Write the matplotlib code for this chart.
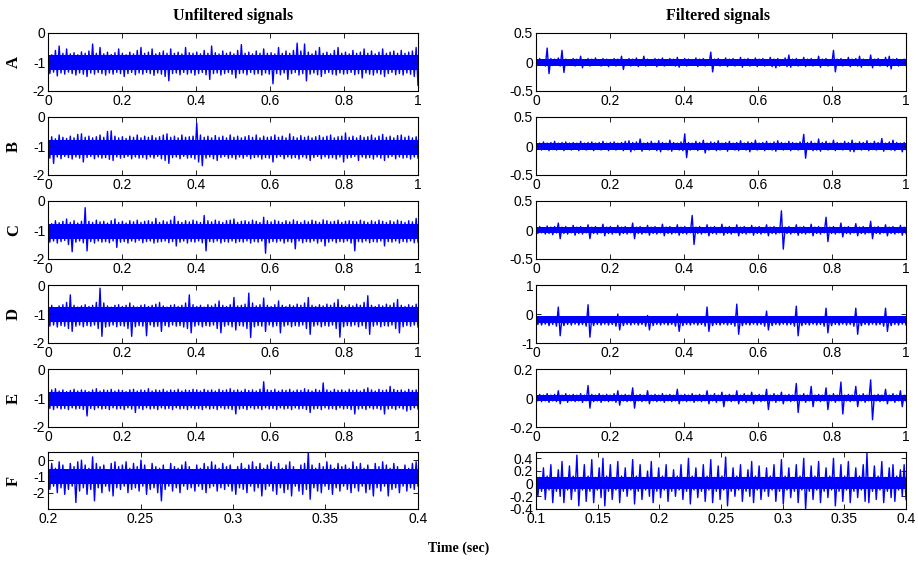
import numpy as np
import matplotlib.pyplot as plt

plt.rcParams['axes.unicode_minus'] = False
plt.rcParams['font.family'] = 'Liberation Sans'

# peak (hi) and trough (lo) values, 100 samples per trace
# ---- unfiltered (left column) ----
A_raw_hi = [-0.7, -0.75, -0.6, -0.45, -0.7, -0.55, -0.72, -0.68, -0.75, -0.65,
            -0.7, -0.62, -0.38, -0.7, -0.5, -0.72, -0.66, -0.74, -0.68, -0.55,
            -0.7, -0.75, -0.66, -0.72, -0.6, -0.5, -0.7, -0.66, -0.55, -0.72,
            -0.68, -0.62, -0.7, -0.55, -0.7, -0.66, -0.72, -0.5, -0.68, -0.7,
            -0.66, -0.72, -0.6, -0.7, -0.45, -0.68, -0.72, -0.62, -0.7, -0.66,
            -0.72, -0.6, -0.4, -0.7, -0.66, -0.72, -0.62, -0.7, -0.55, -0.7,
            -0.68, -0.72, -0.5, -0.7, -0.62, -0.7, -0.6, -0.35, -0.62, -0.38,
            -0.66, -0.72, -0.62, -0.5, -0.7, -0.66, -0.72, -0.6, -0.5, -0.7,
            -0.66, -0.72, -0.6, -0.7, -0.66, -0.55, -0.7, -0.62, -0.72, -0.66,
            -0.55, -0.7, -0.66, -0.62, -0.7, -0.6, -0.7, -0.66, -0.62, -0.5]
A_raw_lo = [-1.4, -1.35, -1.48, -1.38, -1.42, -1.35, -1.4, -1.45, -1.38, -1.42,
            -1.5, -1.38, -1.42, -1.36, -1.4, -1.45, -1.38, -1.42, -1.36, -1.4,
            -1.5, -1.4, -1.36, -1.44, -1.38, -1.42, -1.36, -1.4, -1.46, -1.38,
            -1.42, -1.5, -1.65, -1.4, -1.38, -1.44, -1.36, -1.42, -1.38, -1.45,
            -1.4, -1.36, -1.44, -1.6, -1.4, -1.38, -1.45, -1.4, -1.36, -1.42,
            -1.55, -1.4, -1.38, -1.44, -1.36, -1.42, -1.4, -1.45, -1.38, -1.42,
            -1.75, -1.4, -1.44, -1.38, -1.6, -1.4, -1.36, -1.45, -1.4, -1.65,
            -1.42, -1.38, -1.44, -1.5, -1.4, -1.36, -1.42, -1.45, -1.38, -1.42,
            -1.4, -1.36, -1.44, -1.4, -1.55, -1.38, -1.42, -1.45, -1.38, -1.42,
            -1.5, -1.4, -1.36, -1.44, -1.4, -1.45, -1.38, -1.42, -1.5, -1.8]

B_raw_hi = [-0.72, -0.68, -0.75, -0.62, -0.7, -0.74, -0.66, -0.72, -0.6, -0.58,
            -0.7, -0.66, -0.72, -0.68, -0.62, -0.7, -0.5, -0.48, -0.66, -0.72,
            -0.68, -0.74, -0.66, -0.7, -0.62, -0.72, -0.66, -0.7, -0.64, -0.72,
            -0.68, -0.62, -0.58, -0.7, -0.66, -0.72, -0.62, -0.7, -0.68, -0.66,
            -0.2, -0.62, -0.7, -0.66, -0.72, -0.64, -0.7, -0.66, -0.72, -0.62,
            -0.7, -0.66, -0.72, -0.68, -0.64, -0.7, -0.62, -0.72, -0.66, -0.7,
            -0.68, -0.62, -0.7, -0.66, -0.72, -0.58, -0.68, -0.72, -0.64, -0.7,
            -0.66, -0.72, -0.68, -0.64, -0.7, -0.66, -0.62, -0.72, -0.68, -0.66,
            -0.55, -0.7, -0.66, -0.72, -0.64, -0.7, -0.68, -0.62, -0.72, -0.66,
            -0.6, -0.7, -0.66, -0.72, -0.64, -0.62, -0.7, -0.66, -0.72, -0.68]
B_raw_lo = [-1.42, -1.6, -1.38, -1.44, -1.36, -1.4, -1.45, -1.38, -1.42, -1.55,
            -1.4, -1.36, -1.44, -1.38, -1.42, -1.4, -1.46, -1.5, -1.38, -1.42,
            -1.4, -1.36, -1.44, -1.38, -1.42, -1.4, -1.45, -1.38, -1.42, -1.36,
            -1.44, -1.5, -1.6, -1.4, -1.38, -1.44, -1.36, -1.42, -1.4, -1.45,
            -1.55, -1.68, -1.42, -1.38, -1.44, -1.5, -1.4, -1.36, -1.42, -1.4,
            -1.45, -1.38, -1.42, -1.36, -1.44, -1.4, -1.38, -1.45, -1.4, -1.42,
            -1.55, -1.4, -1.36, -1.44, -1.38, -1.42, -1.4, -1.45, -1.38, -1.42,
            -1.5, -1.4, -1.36, -1.44, -1.38, -1.42, -1.4, -1.45, -1.38, -1.55,
            -1.42, -1.4, -1.36, -1.5, -1.38, -1.42, -1.4, -1.45, -1.38, -1.42,
            -1.5, -1.4, -1.36, -1.44, -1.38, -1.42, -1.4, -1.45, -1.38, -1.42]

C_raw_hi = [-0.72, -0.78, -0.68, -0.75, -0.7, -0.62, -0.74, -0.68, -0.76, -0.7,
            -0.23, -0.7, -0.74, -0.66, -0.72, -0.7, -0.76, -0.68, -0.62, -0.74,
            -0.7, -0.76, -0.68, -0.72, -0.66, -0.74, -0.7, -0.68, -0.72, -0.6,
            -0.74, -0.68, -0.72, -0.66, -0.53, -0.7, -0.74, -0.68, -0.72, -0.66,
            -0.7, -0.74, -0.5, -0.68, -0.72, -0.66, -0.7, -0.74, -0.68, -0.66,
            -0.62, -0.74, -0.7, -0.68, -0.72, -0.66, -0.7, -0.74, -0.56, -0.68,
            -0.72, -0.66, -0.7, -0.74, -0.68, -0.72, -0.65, -0.7, -0.74, -0.68,
            -0.72, -0.66, -0.7, -0.74, -0.65, -0.68, -0.72, -0.7, -0.66, -0.74,
            -0.7, -0.68, -0.7, -0.72, -0.66, -0.7, -0.74, -0.68, -0.72, -0.66,
            -0.7, -0.74, -0.68, -0.72, -0.66, -0.7, -0.74, -0.68, -0.72, -0.6]
C_raw_lo = [-1.42, -1.38, -1.45, -1.4, -1.36, -1.5, -1.75, -1.42, -1.38, -1.44,
            -1.72, -1.4, -1.45, -1.38, -1.42, -1.4, -1.44, -1.38, -1.6, -1.42,
            -1.4, -1.45, -1.38, -1.42, -1.36, -1.44, -1.4, -1.38, -1.45, -1.42,
            -1.4, -1.38, -1.44, -1.4, -1.55, -1.42, -1.38, -1.45, -1.4, -1.42,
            -1.38, -1.44, -1.72, -1.4, -1.42, -1.38, -1.45, -1.4, -1.42, -1.38,
            -1.44, -1.4, -1.42, -1.38, -1.45, -1.4, -1.42, -1.38, -1.8, -1.44,
            -1.4, -1.42, -1.38, -1.45, -1.4, -1.42, -1.65, -1.38, -1.44, -1.4,
            -1.42, -1.38, -1.45, -1.4, -1.55, -1.42, -1.38, -1.44, -1.4, -1.42,
            -1.38, -1.45, -1.72, -1.4, -1.42, -1.38, -1.44, -1.4, -1.42, -1.38,
            -1.55, -1.4, -1.42, -1.38, -1.45, -1.4, -1.42, -1.38, -1.44, -1.42]

D_raw_hi = [-0.75, -0.7, -0.78, -0.72, -0.68, -0.6, -0.34, -0.7, -0.76, -0.72,
            -0.68, -0.74, -0.7, -0.6, -0.11, -0.62, -0.72, -0.76, -0.7, -0.68,
            -0.74, -0.7, -0.62, -0.72, -0.76, -0.7, -0.68, -0.74, -0.7, -0.66,
            -0.6, -0.72, -0.76, -0.7, -0.68, -0.74, -0.7, -0.62, -0.34, -0.68,
            -0.74, -0.7, -0.76, -0.68, -0.72, -0.66, -0.55, -0.7, -0.74, -0.68,
            -0.43, -0.72, -0.7, -0.66, -0.28, -0.62, -0.72, -0.68, -0.45, -0.7,
            -0.74, -0.68, -0.55, -0.7, -0.74, -0.68, -0.72, -0.66, -0.7, -0.62,
            -0.43, -0.7, -0.74, -0.68, -0.72, -0.66, -0.7, -0.62, -0.5, -0.7,
            -0.74, -0.68, -0.72, -0.66, -0.7, -0.6, -0.37, -0.7, -0.74, -0.68,
            -0.72, -0.66, -0.7, -0.62, -0.5, -0.7, -0.74, -0.68, -0.72, -0.66]
D_raw_lo = [-1.42, -1.38, -1.45, -1.4, -1.42, -1.5, -1.6, -1.42, -1.38, -1.44,
            -1.4, -1.42, -1.38, -1.5, -1.77, -1.45, -1.42, -1.38, -1.44, -1.4,
            -1.42, -1.5, -1.77, -1.44, -1.4, -1.42, -1.75, -1.38, -1.44, -1.42,
            -1.6, -1.4, -1.44, -1.38, -1.42, -1.4, -1.45, -1.5, -1.65, -1.42,
            -1.38, -1.44, -1.4, -1.42, -1.38, -1.5, -1.65, -1.42, -1.38, -1.44,
            -1.55, -1.4, -1.42, -1.5, -1.81, -1.44, -1.4, -1.42, -1.6, -1.38,
            -1.44, -1.4, -1.65, -1.42, -1.38, -1.44, -1.4, -1.42, -1.38, -1.5,
            -1.7, -1.42, -1.38, -1.44, -1.4, -1.42, -1.38, -1.5, -1.8, -1.44,
            -1.4, -1.42, -1.38, -1.44, -1.4, -1.5, -1.7, -1.42, -1.38, -1.44,
            -1.4, -1.42, -1.38, -1.5, -1.65, -1.44, -1.4, -1.42, -1.38, -1.45]

E_raw_hi = [-0.76, -0.72, -0.68, -0.76, -0.72, -0.78, -0.74, -0.7, -0.76, -0.72,
            -0.74, -0.78, -0.72, -0.68, -0.76, -0.72, -0.74, -0.7, -0.76, -0.72,
            -0.74, -0.78, -0.72, -0.7, -0.76, -0.72, -0.74, -0.68, -0.76, -0.72,
            -0.74, -0.7, -0.76, -0.72, -0.74, -0.7, -0.76, -0.72, -0.74, -0.7,
            -0.72, -0.76, -0.7, -0.74, -0.72, -0.76, -0.7, -0.74, -0.72, -0.68,
            -0.74, -0.72, -0.76, -0.7, -0.74, -0.72, -0.76, -0.7, -0.44, -0.72,
            -0.74, -0.7, -0.76, -0.72, -0.74, -0.7, -0.76, -0.72, -0.74, -0.68,
            -0.72, -0.76, -0.7, -0.74, -0.48, -0.72, -0.76, -0.7, -0.74, -0.72,
            -0.76, -0.7, -0.74, -0.72, -0.76, -0.7, -0.65, -0.72, -0.76, -0.7,
            -0.74, -0.72, -0.6, -0.7, -0.74, -0.72, -0.76, -0.7, -0.74, -0.72]
E_raw_lo = [-1.36, -1.4, -1.34, -1.38, -1.36, -1.4, -1.34, -1.38, -1.36, -1.4,
            -1.62, -1.36, -1.4, -1.34, -1.38, -1.36, -1.4, -1.34, -1.38, -1.36,
            -1.4, -1.34, -1.38, -1.5, -1.36, -1.4, -1.34, -1.38, -1.36, -1.4,
            -1.34, -1.38, -1.36, -1.4, -1.34, -1.38, -1.36, -1.4, -1.34, -1.38,
            -1.36, -1.4, -1.34, -1.38, -1.36, -1.4, -1.34, -1.38, -1.36, -1.4,
            -1.55, -1.38, -1.36, -1.4, -1.34, -1.38, -1.36, -1.4, -1.34, -1.38,
            -1.36, -1.4, -1.34, -1.38, -1.36, -1.4, -1.34, -1.38, -1.36, -1.4,
            -1.5, -1.38, -1.36, -1.4, -1.34, -1.38, -1.36, -1.4, -1.34, -1.38,
            -1.36, -1.4, -1.55, -1.38, -1.36, -1.4, -1.34, -1.38, -1.36, -1.4,
            -1.55, -1.38, -1.36, -1.4, -1.34, -1.38, -1.45, -1.4, -1.34, -1.38]

F_raw_hi = [-0.4, -0.2, -0.5, -0.1, -0.3, -0.6, -0.2, -0.4, -0.1, 0.0,
            -0.3, -0.5, 0.2, -0.2, -0.4, -0.3, -0.6, -0.2, -0.1, -0.4,
            -0.3, -0.1, -0.5, -0.2, -0.4, 0.0, -0.3, -0.6, -0.2, -0.4,
            -0.5, -0.3, -0.6, -0.2, -0.4, -0.5, -0.3, -0.1, -0.4, -0.6,
            -0.3, -0.5, -0.2, -0.4, -0.1, -0.3, -0.5, -0.2, -0.4, -0.3,
            -0.6, -0.4, -0.2, -0.5, -0.3, -0.1, -0.4, -0.2, -0.5, -0.3,
            -0.1, -0.4, -0.2, -0.5, -0.3, -0.1, -0.4, -0.6, -0.3, -0.2,
            0.5, -0.3, -0.5, -0.2, -0.4, -0.1, -0.3, -0.5, -0.2, -0.4,
            -0.3, -0.5, -0.1, -0.4, -0.2, -0.5, -0.3, -0.6, -0.2, -0.4,
            -0.1, -0.3, -0.5, -0.2, -0.4, -0.6, -0.3, -0.5, -0.2, -0.1]
F_raw_lo = [-1.8, -1.6, -2.0, -1.7, -2.1, -1.8, -1.6, -2.6, -1.9, -1.7,
            -2.1, -1.8, -2.5, -1.7, -2.0, -1.6, -1.9, -2.2, -1.7, -1.8,
            -1.6, -2.0, -1.8, -1.7, -1.9, -1.6, -2.1, -1.8, -1.7, -2.0,
            -2.5, -1.8, -1.6, -1.9, -1.7, -2.0, -1.6, -1.8, -1.7, -1.9,
            -1.6, -1.8, -2.0, -1.7, -1.6, -1.9, -1.7, -1.8, -1.6, -1.9,
            -2.1, -1.7, -1.8, -2.0, -1.6, -1.9, -1.7, -2.2, -1.8, -1.6,
            -1.9, -2.1, -1.7, -2.0, -1.8, -2.2, -1.6, -1.9, -2.1, -1.8,
            -2.4, -1.7, -1.9, -2.0, -1.6, -1.8, -2.1, -1.7, -1.9, -1.6,
            -1.8, -2.0, -1.7, -1.9, -1.6, -2.0, -1.8, -2.2, -1.7, -1.9,
            -1.6, -2.2, -1.8, -1.7, -2.0, -1.6, -1.9, -1.7, -1.8, -1.6]

# ---- filtered (right column) ----
A_flt_hi = [0.05, 0.06, 0.04, 0.24, 0.06, 0.05, 0.07, 0.2, 0.05, 0.04,
            0.06, 0.05, 0.1, 0.04, 0.06, 0.05, 0.07, 0.04, 0.06, 0.05,
            0.04, 0.06, 0.05, 0.1, 0.04, 0.06, 0.05, 0.07, 0.04, 0.1,
            0.05, 0.04, 0.06, 0.05, 0.07, 0.04, 0.06, 0.05, 0.08, 0.04,
            0.06, 0.05, 0.04, 0.07, 0.05, 0.06, 0.04, 0.17, 0.05, 0.06,
            0.04, 0.07, 0.05, 0.06, 0.04, 0.08, 0.05, 0.06, 0.04, 0.07,
            0.05, 0.06, 0.04, 0.08, 0.05, 0.06, 0.04, 0.07, 0.12, 0.05,
            0.06, 0.04, 0.08, 0.05, 0.06, 0.04, 0.1, 0.05, 0.06, 0.04,
            0.2, 0.05, 0.06, 0.04, 0.08, 0.05, 0.06, 0.1, 0.05, 0.04,
            0.12, 0.05, 0.06, 0.04, 0.08, 0.1, 0.05, 0.06, 0.04, 0.05]
A_flt_lo = [-0.06, -0.05, -0.07, -0.2, -0.06, -0.05, -0.07, -0.18, -0.06, -0.05,
            -0.07, -0.06, -0.1, -0.05, -0.07, -0.06, -0.05, -0.07, -0.06, -0.08,
            -0.05, -0.07, -0.06, -0.13, -0.05, -0.07, -0.06, -0.08, -0.05, -0.07,
            -0.06, -0.05, -0.08, -0.06, -0.07, -0.05, -0.06, -0.07, -0.09, -0.05,
            -0.07, -0.06, -0.05, -0.08, -0.06, -0.07, -0.05, -0.17, -0.06, -0.07,
            -0.05, -0.08, -0.06, -0.07, -0.05, -0.09, -0.06, -0.07, -0.05, -0.08,
            -0.06, -0.07, -0.05, -0.08, -0.1, -0.07, -0.05, -0.08, -0.09, -0.06,
            -0.07, -0.05, -0.08, -0.06, -0.07, -0.05, -0.09, -0.06, -0.07, -0.05,
            -0.17, -0.06, -0.07, -0.05, -0.08, -0.06, -0.07, -0.09, -0.05, -0.06,
            -0.1, -0.06, -0.07, -0.05, -0.08, -0.12, -0.06, -0.07, -0.05, -0.06]

B_flt_hi = [0.06, 0.05, 0.07, 0.05, 0.06, 0.08, 0.05, 0.06, 0.07, 0.05,
            0.06, 0.05, 0.08, 0.05, 0.06, 0.07, 0.05, 0.06, 0.08, 0.05,
            0.06, 0.07, 0.05, 0.06, 0.08, 0.09, 0.06, 0.07, 0.12, 0.05,
            0.06, 0.08, 0.05, 0.09, 0.06, 0.05, 0.1, 0.06, 0.05, 0.07,
            0.21, 0.06, 0.05, 0.08, 0.06, 0.1, 0.05, 0.07, 0.06, 0.09,
            0.05, 0.06, 0.08, 0.05, 0.06, 0.09, 0.05, 0.07, 0.06, 0.1,
            0.05, 0.06, 0.08, 0.05, 0.07, 0.09, 0.06, 0.05, 0.08, 0.06,
            0.05, 0.07, 0.2, 0.06, 0.08, 0.05, 0.12, 0.06, 0.08, 0.05,
            0.1, 0.06, 0.05, 0.08, 0.06, 0.1, 0.05, 0.07, 0.06, 0.09,
            0.05, 0.08, 0.06, 0.13, 0.05, 0.07, 0.1, 0.06, 0.05, 0.06]
B_flt_lo = [-0.06, -0.07, -0.05, -0.08, -0.06, -0.07, -0.05, -0.08, -0.06, -0.07,
            -0.05, -0.08, -0.06, -0.07, -0.05, -0.08, -0.06, -0.07, -0.05, -0.08,
            -0.06, -0.07, -0.05, -0.08, -0.06, -0.1, -0.07, -0.05, -0.09, -0.06,
            -0.07, -0.05, -0.08, -0.1, -0.06, -0.07, -0.09, -0.05, -0.07, -0.08,
            -0.2, -0.07, -0.06, -0.08, -0.05, -0.12, -0.07, -0.06, -0.08, -0.07,
            -0.05, -0.09, -0.06, -0.07, -0.08, -0.05, -0.07, -0.1, -0.06, -0.07,
            -0.05, -0.08, -0.06, -0.07, -0.09, -0.05, -0.07, -0.06, -0.08, -0.06,
            -0.07, -0.05, -0.21, -0.06, -0.08, -0.07, -0.09, -0.06, -0.07, -0.05,
            -0.08, -0.06, -0.07, -0.05, -0.09, -0.1, -0.06, -0.07, -0.05, -0.08,
            -0.06, -0.07, -0.05, -0.09, -0.06, -0.07, -0.08, -0.05, -0.1, -0.06]

C_flt_hi = [0.05, 0.06, 0.04, 0.07, 0.05, 0.06, 0.12, 0.05, 0.06, 0.04,
            0.08, 0.05, 0.06, 0.04, 0.09, 0.05, 0.06, 0.04, 0.1, 0.05,
            0.06, 0.04, 0.08, 0.05, 0.06, 0.04, 0.12, 0.05, 0.06, 0.04,
            0.08, 0.05, 0.06, 0.04, 0.1, 0.05, 0.06, 0.04, 0.09, 0.05,
            0.06, 0.04, 0.25, 0.05, 0.06, 0.04, 0.09, 0.05, 0.06, 0.04,
            0.1, 0.05, 0.06, 0.04, 0.09, 0.05, 0.06, 0.04, 0.08, 0.05,
            0.06, 0.04, 0.09, 0.05, 0.06, 0.04, 0.33, 0.05, 0.06, 0.04,
            0.09, 0.05, 0.06, 0.04, 0.1, 0.05, 0.06, 0.04, 0.22, 0.05,
            0.06, 0.04, 0.12, 0.05, 0.06, 0.04, 0.11, 0.05, 0.06, 0.04,
            0.15, 0.05, 0.06, 0.04, 0.09, 0.05, 0.06, 0.04, 0.08, 0.05]
C_flt_lo = [-0.06, -0.05, -0.07, -0.06, -0.08, -0.05, -0.15, -0.06, -0.07, -0.05,
            -0.09, -0.06, -0.07, -0.05, -0.15, -0.06, -0.07, -0.05, -0.1, -0.06,
            -0.07, -0.05, -0.09, -0.06, -0.07, -0.05, -0.15, -0.06, -0.07, -0.05,
            -0.09, -0.06, -0.07, -0.05, -0.1, -0.06, -0.07, -0.05, -0.09, -0.06,
            -0.07, -0.05, -0.25, -0.06, -0.07, -0.05, -0.1, -0.06, -0.07, -0.05,
            -0.09, -0.06, -0.07, -0.05, -0.1, -0.06, -0.07, -0.05, -0.09, -0.06,
            -0.07, -0.05, -0.1, -0.06, -0.07, -0.05, -0.33, -0.06, -0.07, -0.05,
            -0.09, -0.06, -0.07, -0.05, -0.1, -0.06, -0.07, -0.05, -0.2, -0.06,
            -0.07, -0.05, -0.12, -0.06, -0.07, -0.05, -0.1, -0.06, -0.07, -0.05,
            -0.15, -0.06, -0.07, -0.05, -0.1, -0.06, -0.07, -0.05, -0.09, -0.06]

D_flt_hi = [-0.15, -0.13, -0.16, -0.12, -0.15, -0.1, 0.24, -0.12, -0.16, -0.13,
            -0.15, -0.12, -0.16, -0.1, 0.32, -0.12, -0.15, -0.13, -0.16, -0.12,
            -0.15, -0.1, 0.0, -0.12, -0.16, -0.13, -0.15, -0.12, -0.16, -0.1,
            -0.05, -0.12, -0.15, -0.13, -0.16, -0.12, -0.15, -0.1, 0.0, -0.12,
            -0.16, -0.13, -0.15, -0.12, -0.16, -0.1, 0.24, -0.12, -0.15, -0.13,
            -0.16, -0.12, -0.15, -0.1, 0.34, -0.12, -0.16, -0.13, -0.15, -0.12,
            -0.16, -0.1, 0.1, -0.12, -0.15, -0.13, -0.16, -0.12, -0.15, -0.1,
            0.27, -0.12, -0.16, -0.13, -0.15, -0.12, -0.16, -0.1, 0.2, -0.12,
            -0.15, -0.13, -0.16, -0.12, -0.15, -0.1, 0.2, -0.12, -0.16, -0.13,
            -0.15, -0.12, -0.16, -0.1, 0.2, -0.12, -0.15, -0.13, -0.16, -0.12]
D_flt_lo = [-0.36, -0.38, -0.35, -0.4, -0.36, -0.42, -0.75, -0.4, -0.36, -0.38,
            -0.35, -0.38, -0.36, -0.42, -0.8, -0.4, -0.36, -0.38, -0.35, -0.38,
            -0.36, -0.42, -0.55, -0.4, -0.36, -0.38, -0.35, -0.38, -0.36, -0.42,
            -0.55, -0.4, -0.36, -0.38, -0.35, -0.38, -0.36, -0.42, -0.6, -0.4,
            -0.36, -0.38, -0.35, -0.38, -0.36, -0.42, -0.6, -0.4, -0.36, -0.38,
            -0.35, -0.38, -0.36, -0.42, -0.7, -0.4, -0.36, -0.38, -0.35, -0.38,
            -0.36, -0.42, -0.55, -0.4, -0.36, -0.38, -0.35, -0.38, -0.36, -0.42,
            -0.75, -0.4, -0.36, -0.38, -0.35, -0.38, -0.36, -0.42, -0.65, -0.4,
            -0.36, -0.38, -0.35, -0.38, -0.36, -0.42, -0.7, -0.4, -0.36, -0.38,
            -0.35, -0.38, -0.36, -0.42, -0.6, -0.4, -0.36, -0.38, -0.35, -0.38]

E_flt_hi = [0.02, 0.025, 0.02, 0.03, 0.02, 0.025, 0.05, 0.02, 0.03, 0.02,
            0.025, 0.02, 0.03, 0.02, 0.086, 0.025, 0.02, 0.03, 0.02, 0.025,
            0.02, 0.03, 0.05, 0.02, 0.025, 0.02, 0.07, 0.02, 0.025, 0.02,
            0.05, 0.02, 0.025, 0.02, 0.03, 0.02, 0.025, 0.02, 0.06, 0.02,
            0.025, 0.02, 0.03, 0.02, 0.025, 0.02, 0.05, 0.02, 0.03, 0.02,
            0.04, 0.02, 0.025, 0.02, 0.05, 0.02, 0.03, 0.02, 0.04, 0.02,
            0.025, 0.02, 0.06, 0.02, 0.03, 0.02, 0.04, 0.02, 0.025, 0.02,
            0.1, 0.02, 0.03, 0.02, 0.08, 0.02, 0.025, 0.02, 0.07, 0.02,
            0.03, 0.02, 0.11, 0.02, 0.025, 0.02, 0.08, 0.02, 0.03, 0.02,
            0.125, 0.02, 0.025, 0.02, 0.06, 0.02, 0.03, 0.02, 0.05, 0.02]
E_flt_lo = [-0.02, -0.025, -0.02, -0.03, -0.02, -0.025, -0.04, -0.02, -0.03, -0.02,
            -0.025, -0.02, -0.03, -0.02, -0.07, -0.025, -0.02, -0.03, -0.02, -0.025,
            -0.02, -0.03, -0.05, -0.02, -0.025, -0.02, -0.07, -0.02, -0.025, -0.02,
            -0.04, -0.02, -0.025, -0.02, -0.03, -0.02, -0.025, -0.02, -0.04, -0.02,
            -0.025, -0.02, -0.03, -0.02, -0.025, -0.02, -0.04, -0.02, -0.03, -0.02,
            -0.06, -0.02, -0.025, -0.02, -0.04, -0.02, -0.03, -0.02, -0.04, -0.02,
            -0.025, -0.02, -0.08, -0.02, -0.03, -0.02, -0.04, -0.02, -0.025, -0.02,
            -0.1, -0.02, -0.03, -0.02, -0.06, -0.02, -0.025, -0.02, -0.08, -0.02,
            -0.03, -0.02, -0.11, -0.02, -0.025, -0.02, -0.06, -0.02, -0.03, -0.02,
            -0.15, -0.02, -0.025, -0.02, -0.04, -0.02, -0.03, -0.02, -0.06, -0.02]

F_flt_hi = [0.2, 0.1, 0.25, 0.12, 0.3, 0.1, 0.22, 0.35, 0.1, 0.28,
            0.12, 0.45, 0.1, 0.3, 0.12, 0.38, 0.1, 0.25, 0.4, 0.12,
            0.3, 0.1, 0.35, 0.12, 0.25, 0.1, 0.38, 0.12, 0.3, 0.1,
            0.2, 0.35, 0.1, 0.25, 0.12, 0.3, 0.1, 0.22, 0.12, 0.3,
            0.1, 0.4, 0.12, 0.25, 0.1, 0.3, 0.12, 0.38, 0.1, 0.28,
            0.12, 0.42, 0.1, 0.25, 0.12, 0.3, 0.1, 0.22, 0.35, 0.12,
            0.28, 0.1, 0.25, 0.12, 0.3, 0.1, 0.38, 0.12, 0.25, 0.1,
            0.3, 0.12, 0.4, 0.1, 0.28, 0.12, 0.35, 0.1, 0.25, 0.12,
            0.4, 0.1, 0.3, 0.12, 0.35, 0.1, 0.25, 0.12, 0.3, 0.48,
            0.1, 0.28, 0.12, 0.35, 0.1, 0.25, 0.3, 0.12, 0.22, 0.3]
F_flt_lo = [-0.2, -0.12, -0.25, -0.1, -0.3, -0.12, -0.2, -0.3, -0.1, -0.25,
            -0.12, -0.35, -0.1, -0.28, -0.12, -0.3, -0.1, -0.22, -0.35, -0.12,
            -0.25, -0.1, -0.3, -0.12, -0.2, -0.1, -0.32, -0.12, -0.25, -0.1,
            -0.2, -0.3, -0.12, -0.22, -0.1, -0.28, -0.12, -0.2, -0.1, -0.25,
            -0.12, -0.32, -0.1, -0.22, -0.12, -0.28, -0.1, -0.3, -0.12, -0.25,
            -0.1, -0.35, -0.12, -0.2, -0.1, -0.28, -0.12, -0.2, -0.3, -0.1,
            -0.25, -0.12, -0.2, -0.1, -0.28, -0.12, -0.32, -0.1, -0.22, -0.12,
            -0.3, -0.1, -0.4, -0.12, -0.25, -0.1, -0.3, -0.12, -0.22, -0.1,
            -0.35, -0.12, -0.28, -0.1, -0.3, -0.12, -0.22, -0.1, -0.28, -0.3,
            -0.12, -0.25, -0.1, -0.3, -0.12, -0.22, -0.28, -0.1, -0.2, -0.25]

# solid core of each trace (top, bottom), where the noise is too dense to resolve
raw_core = [(-0.77, -1.29), (-0.78, -1.3), (-0.8, -1.3), (-0.76, -1.28), (-0.8, -1.28),
            (-0.55, -1.45)]
flt_core = [(0.06, -0.065), (0.06, -0.065), (0.055, -0.06), (-0.08, -0.31),
            (0.022, -0.022), (0.11, -0.09)]

row_labels = ['A', 'B', 'C', 'D', 'E', 'F']
raw_hi = [A_raw_hi, B_raw_hi, C_raw_hi, D_raw_hi, E_raw_hi, F_raw_hi]
raw_lo = [A_raw_lo, B_raw_lo, C_raw_lo, D_raw_lo, E_raw_lo, F_raw_lo]
flt_hi = [A_flt_hi, B_flt_hi, C_flt_hi, D_flt_hi, E_flt_hi, F_flt_hi]
flt_lo = [A_flt_lo, B_flt_lo, C_flt_lo, D_flt_lo, E_flt_lo, F_flt_lo]

# axis ranges / ticks per panel
raw_xlim = [(0, 1)] * 5 + [(0.2, 0.4)]
raw_xticks = [[0, 0.2, 0.4, 0.6, 0.8, 1]] * 5 + [[0.2, 0.25, 0.3, 0.35, 0.4]]
raw_ylim = [(-2, 0)] * 5 + [(-3, 0.5)]
raw_yticks = [[-2, -1, 0]] * 6

flt_xlim = [(0, 1)] * 5 + [(0.1, 0.4)]
flt_xticks = [[0, 0.2, 0.4, 0.6, 0.8, 1]] * 5 + [[0.1, 0.15, 0.2, 0.25, 0.3, 0.35, 0.4]]
flt_ylim = [(-0.5, 0.5)] * 3 + [(-1, 1), (-0.2, 0.2), (-0.4, 0.5)]
flt_yticks = [[-0.5, 0, 0.5]] * 3 + [[-1, 0, 1], [-0.2, 0, 0.2], [-0.4, -0.2, 0, 0.2, 0.4]]


def draw_signal(ax, xlim, hi, lo, core):
    # solid core band, then the peak/trough zigzag on top of it
    ax.fill_between(list(xlim), [core[1]] * 2, [core[0]] * 2, color='blue', lw=0)
    x = np.linspace(xlim[0], xlim[1], 2 * len(hi))
    y = np.empty(2 * len(hi))
    y[0::2] = hi
    y[1::2] = lo
    ax.plot(x, y, color='blue', lw=1.0)


def style(ax, xlim, xticks, ylim, yticks):
    ax.set_xlim(xlim)
    ax.set_ylim(ylim)
    ax.set_xticks(xticks)
    ax.set_yticks(yticks)
    ax.set_xticklabels(['%g' % v for v in xticks])
    ax.set_yticklabels(['%g' % v for v in yticks])
    ax.tick_params(direction='in', top=True, right=True, length=3.5, width=0.6,
                   labelsize=10, pad=2)
    for s in ax.spines.values():
        s.set_linewidth(0.8)


W, H = 918, 568
fig = plt.figure(figsize=(W / 100, H / 100), dpi=100)

tops = [33, 117, 201, 285, 369, 452]
heights = [58, 58, 58, 58, 58, 57]
left_x, right_x, ax_w = 48, 536, 370

for i in range(6):
    b = 1 - (tops[i] + heights[i]) / H
    h = heights[i] / H
    axl = fig.add_axes([left_x / W, b, ax_w / W, h])
    draw_signal(axl, raw_xlim[i], raw_hi[i], raw_lo[i], raw_core[i])
    style(axl, raw_xlim[i], raw_xticks[i], raw_ylim[i], raw_yticks[i])

    axr = fig.add_axes([right_x / W, b, ax_w / W, h])
    draw_signal(axr, flt_xlim[i], flt_hi[i], flt_lo[i], flt_core[i])
    style(axr, flt_xlim[i], flt_xticks[i], flt_ylim[i], flt_yticks[i])

    fig.text(14 / W, 1 - (tops[i] + heights[i] / 2) / H, row_labels[i],
             rotation=90, ha='center', va='center', fontsize=12,
             fontweight='bold', family='Liberation Serif')

fig.text(233 / W, 1 - 16 / H, 'Unfiltered signals', ha='center', va='center',
         fontsize=11.5, fontweight='bold', family='Liberation Serif')
fig.text(718 / W, 1 - 16 / H, 'Filtered signals', ha='center', va='center',
         fontsize=11.5, fontweight='bold', family='Liberation Serif')
fig.text(459 / W, 1 - 548 / H, 'Time (sec)', ha='center', va='center',
         fontsize=10, fontweight='bold', family='Liberation Serif')

plt.savefig('out.png', dpi=100)
